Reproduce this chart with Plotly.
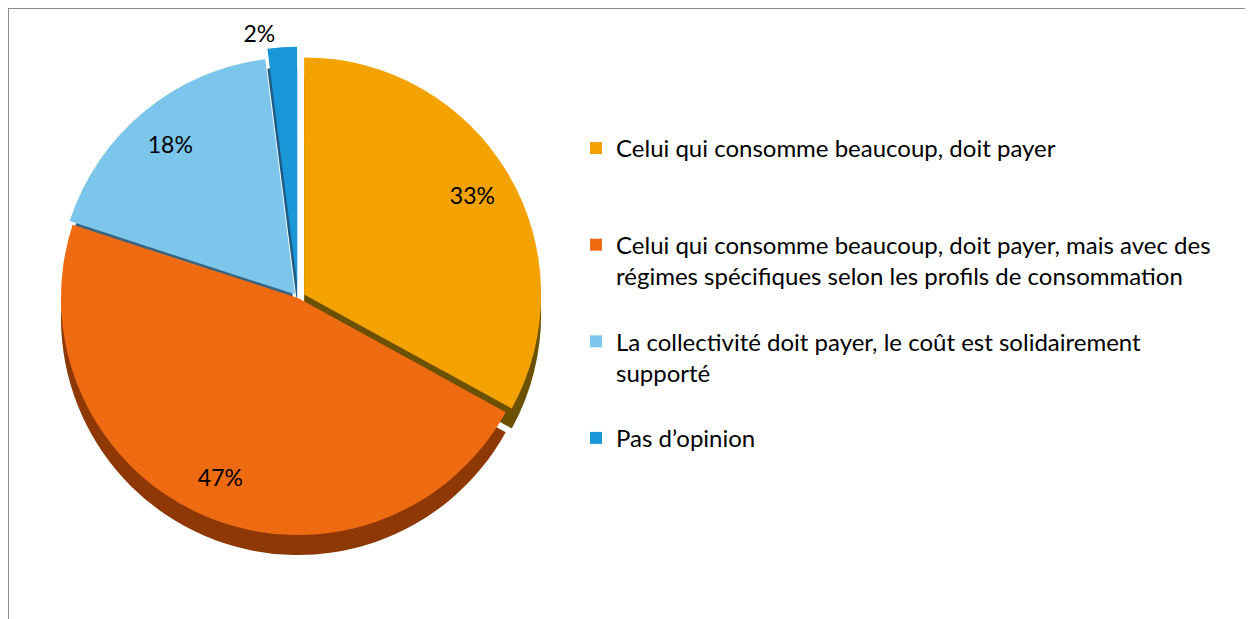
import plotly.graph_objects as go

NB = "\u00a0"
labels = [
    "Celui qui consomme beaucoup, doit payer",
    "Celui qui consomme beaucoup, doit payer, mais avec des<br>régimes spécifiques selon les profils de consommation",
    "La collectivité doit payer, le coût est solidairement<br>supporté",
    "Pas d\u2019opinion",
]
legend_pad = ["<br>" + NB + "<br>" + NB, "<br>" + NB, "<br>" + NB, ""]
values = [33, 47, 18, 2]
colors = ["#F3A200", "#EF6B12", "#7CC6EC", "#1A97D8"]
side_colors = ["#6B5000", "#8E3806", "#3A6580", "#1D5D85"]
pulls = [0.03, 0.0, 0.02, 0.06]

FONT = "Lato, Open Sans, sans-serif"
W, H = 1253, 619
cx, cy, R = 290, 290, 237   # pie centre / radius in figure pixels
depth = 20
HOLE = 0.65
COVER = 0.66

def dom(cx, cy, half):
    return dict(x=[(cx - half) / W, (cx + half) / W],
                y=[(H - cy - half) / H, (H - cy + half) / H])

legend_labels = [l + p for l, p in zip(labels, legend_pad)]
maxp = max(pulls)
fig = go.Figure()
# side (depth) of the 3D pie
fig.add_trace(go.Pie(
    labels=legend_labels, values=values, sort=False, direction="clockwise", rotation=0,
    pull=pulls, marker=dict(colors=side_colors, line=dict(width=0)),
    textinfo="none", hoverinfo="skip", showlegend=False,
    domain=dom(cx, cy + depth, R * (1 + maxp)),
))
# top face (ring carrying the labels)
fig.add_trace(go.Pie(
    labels=legend_labels, values=values, sort=False, direction="clockwise", rotation=0,
    pull=pulls, hole=HOLE,
    marker=dict(colors=colors, line=dict(width=0)),
    texttemplate="%{percent:.0%}",
    textposition=["inside", "inside", "inside", "outside"],
    insidetextorientation="horizontal",
    textfont=dict(family=FONT, size=23, color="black"),
    outsidetextfont=dict(family=FONT, size=23, color="black"),
    domain=dom(cx, cy, R * (1 + maxp)),
    showlegend=True,
))
# centre of the top face
cpulls = [p / COVER for p in pulls]
fig.add_trace(go.Pie(
    labels=legend_labels, values=values, sort=False, direction="clockwise", rotation=0,
    pull=cpulls, marker=dict(colors=colors, line=dict(width=0)),
    textinfo="none", hoverinfo="skip", showlegend=False,
    domain=dom(cx, cy, R * COVER * (1 + max(cpulls))),
))

fig.update_layout(
    width=W, height=H,
    margin=dict(l=0, r=0, t=0, b=0, autoexpand=False),
    paper_bgcolor="white", plot_bgcolor="white",
    font=dict(family=FONT, size=24, color="black"),
    legend=dict(
        x=568 / W, y=1 - 118 / H, xanchor="left", yanchor="top",
        font=dict(size=24, family=FONT, color="black"),
        valign="top", itemwidth=30,
        bgcolor="rgba(0,0,0,0)",
    ),
    shapes=[dict(type="rect", xref="paper", yref="paper",
                 x0=0, x1=1.02, y0=-0.02, y1=1,
                 line=dict(color="#8C8C8C", width=2), fillcolor="rgba(0,0,0,0)")],
)
fig.write_html("out.html")
